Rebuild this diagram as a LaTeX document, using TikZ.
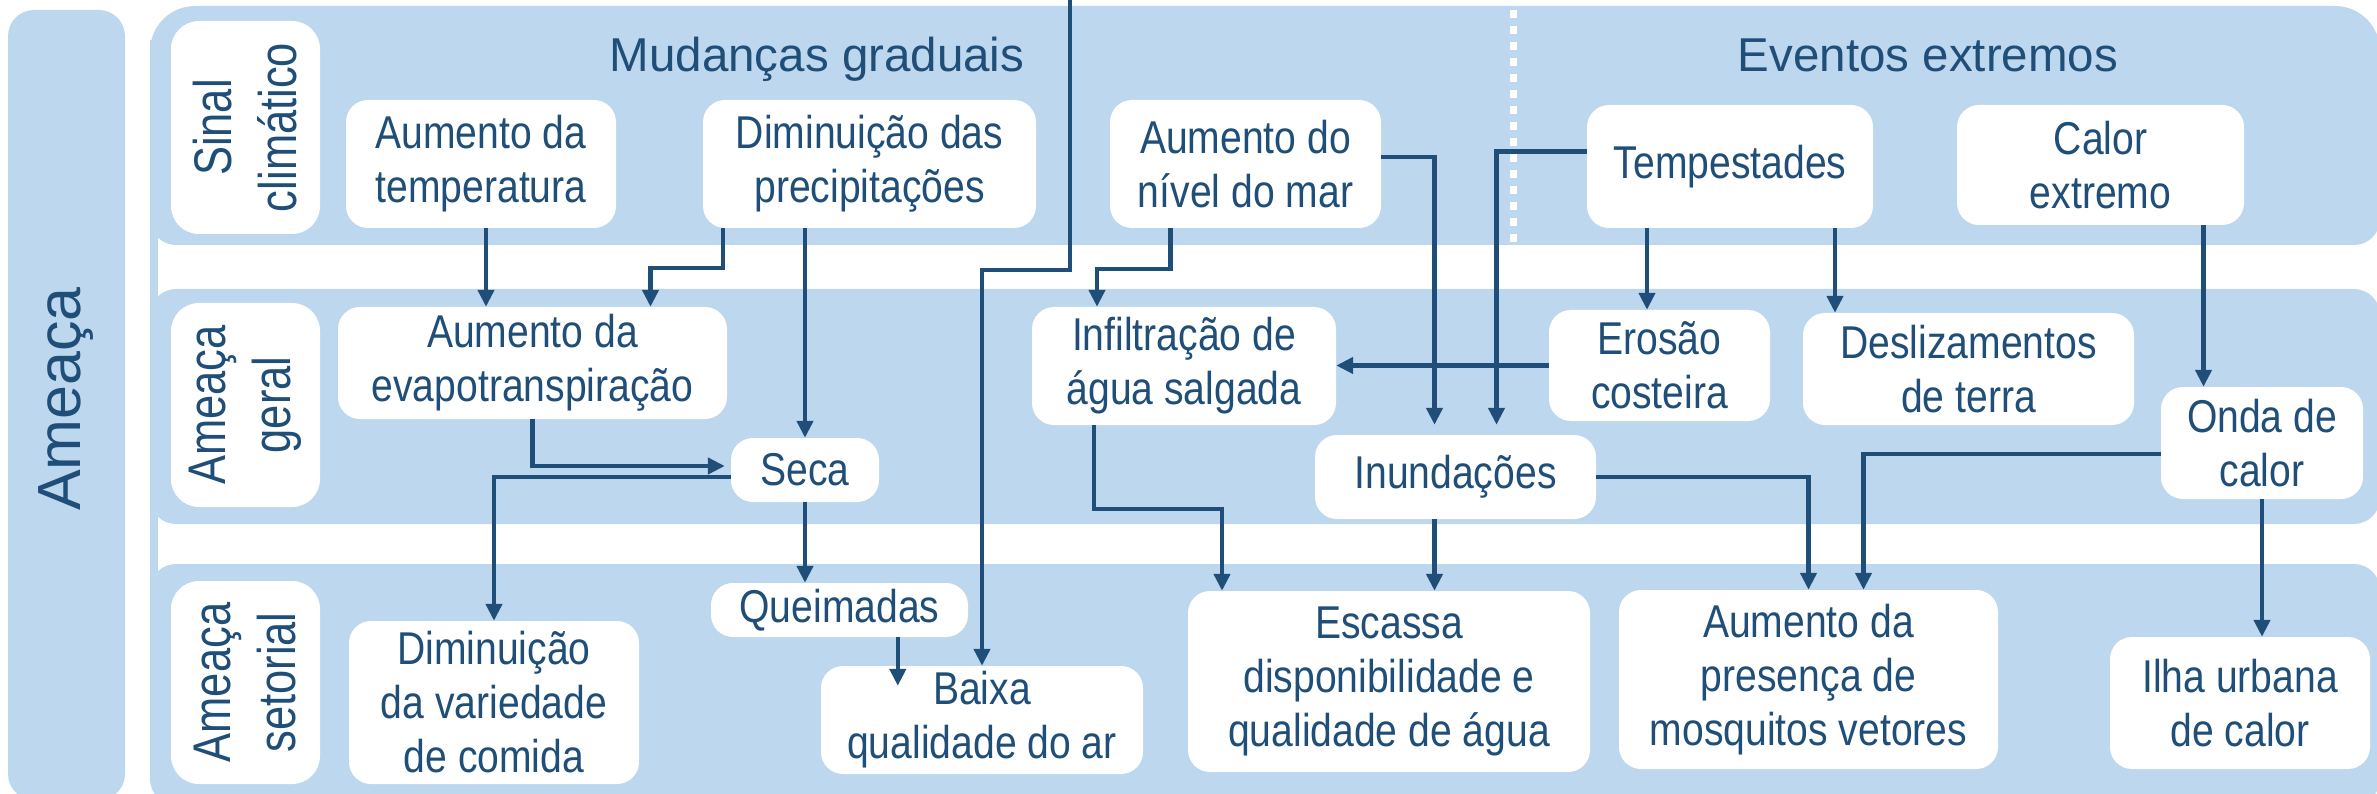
\documentclass[tikz,border=0pt]{standalone}
\usepackage{fontspec}
\setmainfont{Liberation Sans}
\newfontfamily\narrowfont{Liberation Sans}[FakeStretch=0.85]
\newfontfamily\labelfont{Liberation Sans}[FakeStretch=0.82]
\usetikzlibrary{arrows.meta}
\definecolor{bandblue}{HTML}{BDD7EE}
\definecolor{inkblue}{HTML}{1F4E79}

\begin{document}
\begin{tikzpicture}[
  x=1pt, y=-1pt,
  band/.style={fill=bandblue, rounded corners=26pt},
  lab/.style={fill=white, rounded corners=28pt, text=inkblue, align=center,
    inner sep=0pt, rotate=90, font=\labelfont\fontsize{53}{65}\selectfont},
  bx/.style={fill=white, rounded corners=22pt, text=inkblue, align=center,
    inner sep=0pt, font=\narrowfont\fontsize{46}{54}\selectfont},
  hd/.style={text=inkblue, anchor=base, inner sep=0pt,
    font=\fontsize{47.5}{57}\selectfont},
  arr/.style={draw=inkblue, line width=4.5pt, -{Triangle[length=17pt,width=16pt]}}
]
\useasboundingbox (0,0) rectangle (2377,794);

% background bands
\fill[band] (8,10) rectangle (125,800);
\fill[bandblue] (150,40) rectangle (158,770);
\fill[band, rounded corners=45pt] (150,6) rectangle (2380,200);
\fill[band] (150,30) rectangle (2380,245);
\fill[band] (150,289) rectangle (2380,524);
\fill[band] (150,564) rectangle (2380,805);
\draw[white, line width=7pt, dash pattern=on 8pt off 8pt] (1513,10) -- (1513,242);

\node[text=inkblue, rotate=90, inner sep=0pt, font=\fontsize{61}{72}\selectfont]
  (ameaca) at (66,399) {Ameaça};
\node[hd] (grad) at (817,72) {Mudanças graduais};
\node[hd] (ext) at (1928,72) {Eventos extremos};

% row labels
\node[lab, minimum width=213, minimum height=149] (lsig) at (245.5,127.5) {Sinal\\climático};
\node[lab, minimum width=204, minimum height=149] (lger) at (245.5,405) {Ameaça\\geral};
\node[lab, minimum width=203, minimum height=149] (lset) at (245.5,682.5) {Ameaça\\setorial};

% climate signal
\node[bx, minimum width=270, minimum height=128] (temp) at (481,164) {Aumento da\\temperatura};
\node[bx, minimum width=333, minimum height=128] (prec) at (869.5,164) {Diminuição das\\precipitações};
\node[bx, minimum width=271, minimum height=128] (mar) at (1245.5,164) {Aumento do\\nível do mar};
\node[bx, minimum width=286, minimum height=123] (tmp) at (1730,166.5) {Tempestades};
\node[bx, minimum width=287, minimum height=120] (calor) at (2100.5,165) {Calor\\extremo};

% general hazard
\node[bx, minimum width=389, minimum height=112] (evapo) at (532.5,363) {Aumento da\\evapotranspiração};
\node[bx, minimum width=304, minimum height=118] (infil) at (1184,366) {Infiltração de\\água salgada};
\node[bx, minimum width=221, minimum height=111] (erosao) at (1659.5,365.5) {Erosão\\costeira};
\node[bx, minimum width=331, minimum height=112] (desliz) at (1968.5,369) {Deslizamentos\\de terra};
\node[bx, minimum width=148, minimum height=64] (seca) at (805,470) {Seca};
\node[bx, minimum width=281, minimum height=84] (inund) at (1455.5,477) {Inundações};
\node[bx, minimum width=202, minimum height=112] (onda) at (2262,443) {Onda de\\calor};

% sectoral hazard
\node[bx, minimum width=257, minimum height=54] (queim) at (839.5,610) {Queimadas};
\node[bx, minimum width=290, minimum height=163] (varied) at (494,702.5) {Diminuição\\da variedade\\de comida};
\node[bx, minimum width=322, minimum height=108] (baixa) at (982,720) {Baixa\\qualidade do ar};
\node[bx, minimum width=402, minimum height=181] (escassa) at (1389,681.5) {Escassa\\disponibilidade e\\qualidade de água};
\node[bx, minimum width=379, minimum height=179] (mosq) at (1808.5,679.5) {Aumento da\\presença de\\mosquitos vetores};
\node[bx, minimum width=260, minimum height=132] (ilha) at (2240,703) {Ilha urbana\\de calor};

\coordinate (air) at (1070,-3);

% signal -> general
\draw[arr] ([xshift=5pt]temp.south) -- ([xshift=5pt]temp.south |- evapo.north);
\draw[arr] ([xshift=20pt]prec.south west) -- ++(0,40) -| ([xshift=118pt]evapo.north);
\draw[arr] (prec.south -| seca.north) -- (seca.north);
\draw[arr] ([xshift=-75pt]mar.south) -- ++(0,41) -| ([xshift=-87pt]infil.north);
\draw[arr] ([yshift=7pt]mar.east) -| ([xshift=-21pt,yshift=10pt]inund.north);
\draw[arr] ([yshift=15pt]tmp.west) -| ([xshift=41pt,yshift=10pt]inund.north);
\draw[arr] ([xshift=-83pt]tmp.south) -- ([xshift=-83pt]tmp.south |- erosao.north);
\draw[arr] ([xshift=105pt]tmp.south) -- ([xshift=105pt]tmp.south |- desliz.north);
\draw[arr] ([xshift=103pt]calor.south) -- ([xshift=103pt]calor.south |- onda.north);

% within general
\draw[arr, shorten >=6pt] (evapo.south) |- ([yshift=4pt]seca.west);
\draw[arr] (erosao.west) -- (erosao.west -| infil.east);

% general -> sectoral
\draw[arr] ([yshift=-7pt]seca.west) -| (varied.north);
\draw[arr] (seca.south) -- (seca.south |- queim.north);
\draw[arr] ([xshift=187pt]queim.south west) -- ([xshift=77pt,yshift=-20pt]baixa.north west);
\draw[arr] (air) -- ++(0,273) -| (baixa.north);
\draw[arr] ([xshift=-90pt]infil.south) -- ++(0,84) -| ([xshift=-167pt]escassa.north);
\draw[arr] ([xshift=-21pt]inund.south) -- ([xshift=-21pt]inund.south |- escassa.north);
\draw[arr] (inund.east) -| (mosq.north);
\draw[arr] ([yshift=-11pt]onda.west) -| ([xshift=55pt]mosq.north);
\draw[arr] (onda.south) -- (onda.south |- ilha.north);

\end{tikzpicture}
\end{document}
